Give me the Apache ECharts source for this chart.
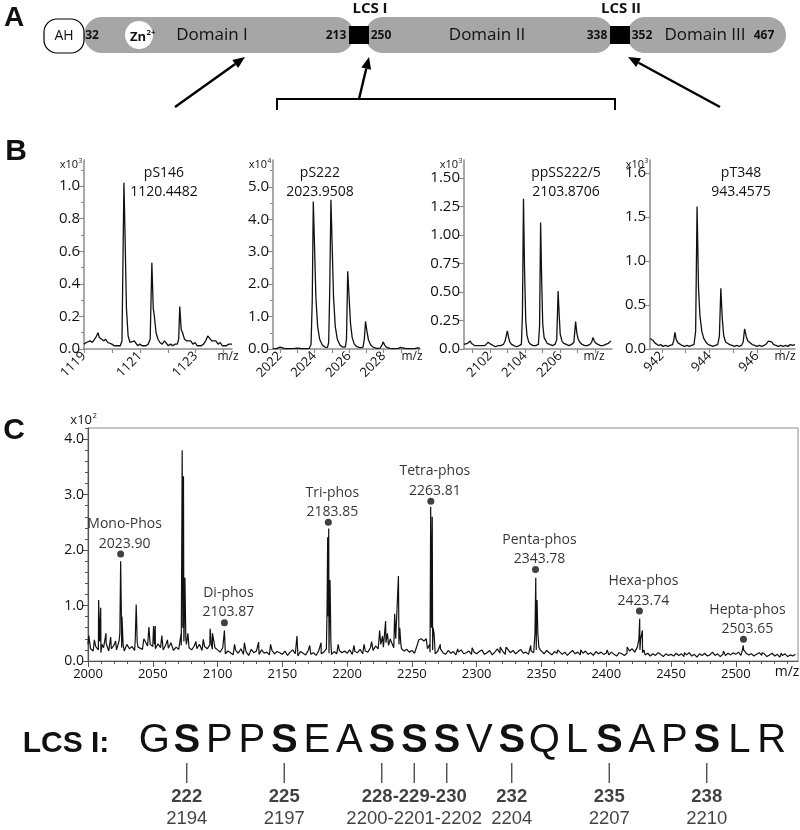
<!DOCTYPE html>
<html>
<head>
<meta charset="utf-8">
<script src="https://cdn.jsdelivr.net/npm/echarts@6/dist/echarts.min.js"></script>
<style>
  html, body { margin: 0; padding: 0; background: #fff; }
  #chart { width: 800px; height: 830px; }
</style>
</head>
<body>
<div id="chart"></div>
<script>
// ---------- panel B: isotope spectra, [m/z, intensity] ----------
const specS146 = [
  [1119.00,0.03],[1119.08,0.04],[1119.15,0.03],[1119.22,0.05],[1119.30,0.04],[1119.38,0.06],[1119.45,0.08],[1119.50,0.10],
  [1119.55,0.07],[1119.62,0.06],[1119.70,0.05],[1119.78,0.06],[1119.85,0.04],[1119.92,0.04],[1120.00,0.03],[1120.08,0.02],
  [1120.15,0.03],[1120.22,0.02],[1120.30,0.02],[1120.36,0.05],[1120.43,1.02],[1120.47,0.70],[1120.52,0.25],[1120.58,0.08],
  [1120.65,0.04],[1120.72,0.03],[1120.80,0.05],[1120.85,0.04],[1120.92,0.02],[1121.00,0.03],[1121.08,0.02],[1121.15,0.03],
  [1121.22,0.02],[1121.30,0.03],[1121.37,0.06],[1121.43,0.53],[1121.48,0.25],[1121.52,0.20],[1121.58,0.10],[1121.65,0.06],
  [1121.72,0.04],[1121.80,0.03],[1121.88,0.05],[1121.95,0.04],[1122.02,0.02],[1122.10,0.03],[1122.18,0.02],[1122.26,0.03],
  [1122.34,0.03],[1122.39,0.06],[1122.43,0.26],[1122.48,0.12],[1122.53,0.10],[1122.60,0.06],[1122.68,0.05],[1122.75,0.04],
  [1122.82,0.05],[1122.90,0.03],[1122.98,0.04],[1123.05,0.02],[1123.12,0.03],[1123.20,0.02],[1123.28,0.03],[1123.36,0.05],
  [1123.43,0.08],[1123.50,0.07],[1123.58,0.05],[1123.65,0.04],[1123.72,0.05],[1123.80,0.03],[1123.88,0.04],[1123.95,0.02],
  [1124.02,0.03],[1124.10,0.02],[1124.18,0.03],[1124.25,0.02],[1124.30,0.03]
];
const specS222 = [
  [2021.6,0.01],[2021.8,0.01],[2021.9,0.04],[2022.0,0.06],[2022.1,0.03],[2022.3,0.01],[2022.6,0.01],[2022.85,0.02],
  [2022.95,0.05],[2023.05,0.03],[2023.25,0.01],[2023.5,0.01],[2023.7,0.02],[2023.8,0.15],[2023.87,1.5],[2023.93,4.55],
  [2024.0,3.2],[2024.08,1.6],[2024.18,0.7],[2024.3,0.3],[2024.45,0.12],[2024.6,0.06],[2024.75,0.05],[2024.82,0.2],
  [2024.88,1.8],[2024.95,4.6],[2025.02,3.2],[2025.1,1.6],[2025.2,0.7],[2025.32,0.3],[2025.47,0.12],[2025.62,0.06],
  [2025.78,0.06],[2025.85,0.3],[2025.92,2.4],[2026.0,1.6],[2026.08,0.8],[2026.18,0.35],[2026.3,0.15],[2026.45,0.07],
  [2026.62,0.04],[2026.8,0.05],[2026.88,0.3],[2026.95,0.85],[2027.03,0.55],[2027.12,0.28],[2027.25,0.12],[2027.4,0.05],
  [2027.6,0.02],[2027.8,0.03],[2027.9,0.12],[2027.97,0.22],[2028.05,0.13],[2028.15,0.06],[2028.35,0.02],[2028.6,0.01],
  [2028.85,0.02],[2028.97,0.05],[2029.08,0.02],[2029.3,0.01],[2029.6,0.01],[2029.8,0.01],[2030.0,0.04],[2030.1,0.01]
];
const specSS222 = [
  [2100.5,0.04],[2100.6,0.03],[2100.7,0.05],[2100.8,0.04],[2100.86,0.07],[2100.92,0.05],[2101.0,0.04],[2101.1,0.03],
  [2101.2,0.02],[2101.3,0.03],[2101.4,0.02],[2101.5,0.03],[2101.6,0.02],[2101.7,0.03],[2101.8,0.04],[2101.88,0.06],
  [2101.95,0.05],[2102.05,0.04],[2102.15,0.03],[2102.3,0.02],[2102.45,0.03],[2102.6,0.03],[2102.75,0.04],[2102.85,0.07],
  [2102.92,0.12],[2102.98,0.16],[2103.05,0.10],[2103.12,0.06],[2103.22,0.04],[2103.35,0.03],[2103.5,0.02],[2103.65,0.03],
  [2103.78,0.04],[2103.84,0.3],[2103.9,1.32],[2103.96,0.7],[2104.03,0.25],[2104.1,0.12],[2104.2,0.06],[2104.32,0.04],
  [2104.45,0.03],[2104.6,0.03],[2104.75,0.04],[2104.82,0.2],[2104.88,1.11],[2104.94,0.6],[2105.0,0.22],[2105.08,0.10],
  [2105.15,0.08],[2105.25,0.05],[2105.4,0.04],[2105.55,0.03],[2105.7,0.04],[2105.8,0.08],[2105.88,0.51],[2105.94,0.3],
  [2106.0,0.13],[2106.1,0.07],[2106.2,0.05],[2106.35,0.04],[2106.5,0.03],[2106.65,0.04],[2106.78,0.06],[2106.88,0.24],
  [2106.95,0.14],[2107.02,0.09],[2107.12,0.06],[2107.25,0.04],[2107.4,0.03],[2107.55,0.03],[2107.7,0.04],[2107.8,0.06],
  [2107.87,0.10],[2107.95,0.07],[2108.05,0.05],[2108.15,0.04],[2108.3,0.03],[2108.45,0.03],[2108.6,0.04],[2108.75,0.05],
  [2108.9,0.07]
];
const specT348 = [
  [941.5,0.12],[941.55,0.13],[941.62,0.10],[941.7,0.07],[941.78,0.06],[941.86,0.04],[941.95,0.05],[942.05,0.03],
  [942.15,0.04],[942.25,0.03],[942.35,0.04],[942.45,0.05],[942.5,0.10],[942.55,0.19],[942.6,0.11],[942.68,0.07],
  [942.76,0.05],[942.85,0.04],[942.95,0.03],[943.05,0.04],[943.15,0.03],[943.25,0.04],[943.35,0.05],[943.42,0.2],
  [943.48,1.62],[943.54,0.7],[943.6,0.38],[943.68,0.2],[943.76,0.12],[943.85,0.08],[943.95,0.05],[944.05,0.04],
  [944.15,0.03],[944.25,0.04],[944.35,0.05],[944.42,0.15],[944.48,0.69],[944.54,0.35],[944.6,0.15],[944.68,0.08],
  [944.76,0.06],[944.85,0.05],[944.95,0.04],[945.05,0.03],[945.15,0.04],[945.25,0.03],[945.35,0.04],[945.42,0.08],
  [945.48,0.23],[945.55,0.14],[945.62,0.09],[945.7,0.07],[945.8,0.05],[945.9,0.04],[946.0,0.03],[946.1,0.04],
  [946.2,0.03],[946.3,0.04],[946.4,0.06],[946.48,0.09],[946.56,0.07],[946.62,0.08],[946.7,0.05],[946.8,0.04],
  [946.9,0.03],[947.0,0.04],[947.1,0.03],[947.2,0.04],[947.3,0.03],[947.4,0.05],[947.5,0.04],[947.6,0.05]
];

const bXTicks = [
  [1119, 1120, 1121, 1122, 1123, 1124],
  [2022, 2023, 2024, 2025, 2026, 2027, 2028, 2029, 2030],
  [2101, 2102, 2103, 2104, 2105, 2106, 2107, 2108],
  [942, 943, 944, 945, 946, 947]
];
const bXLabelVals = [[1119, 1121, 1123], [2022, 2024, 2026, 2028], [2102, 2104, 2106], [942, 944, 946]];
const bXLabelText = [['1119', '1121', '1123'], ['2022', '2024', '2026', '2028'], ['2102', '2104', '2206'], ['942', '944', '946']];
const bYLabelVals = [[0, 0.2, 0.4, 0.6, 0.8, 1.0], [0, 1, 2, 3, 4, 5], [0, 0.25, 0.5, 0.75, 1, 1.25, 1.5], [0, 0.5, 1, 1.5, 2]];
const bYLabelText = [
  ['0.0', '0.2', '0.4', '0.6', '0.8', '1.0'],
  ['0.0', '1.0', '2.0', '3.0', '4.0', '5.0'],
  ['0.0', '0.25', '0.50', '0.75', '1.00', '1.25', '1.50'],
  ['0.0', '0.5', '1.0', '1.5', '1.6']
];
const bExponent = ['3', '4', '3', '3'];
const bPeakName = ['pS146', 'pS222', 'ppSS222/5', 'pT348'];
const bPeakMass = ['1120.4482', '2023.9508', '2103.8706', '943.4575'];

// ---------- panel C: full spectrum ----------
const cStart = 2000, cStep = 2;
const cBaseline = [
  0.30,0.22,0.18,0.26,0.20,0.15,0.24,0.32,0.18,0.22,0.28,0.20,0.36,0.24,0.18,0.30,0.22,0.26,0.19,0.34,0.25,0.21,0.38,0.27,0.30,
  0.26,0.22,0.31,0.24,0.20,0.29,0.23,0.33,0.19,0.25,0.21,0.28,0.35,0.30,0.24,0.20,0.27,0.22,0.30,0.19,0.26,0.22,0.29,0.21,0.24,
  0.20,0.16,0.24,0.13,0.18,0.15,0.11,0.19,0.14,0.22,0.12,0.17,0.10,0.21,0.15,0.18,0.12,0.20,0.14,0.16,0.11,0.19,0.13,0.17,0.15,
  0.12,0.18,0.10,0.16,0.20,0.13,0.09,0.17,0.14,0.11,0.19,0.12,0.15,0.10,0.18,0.13,0.16,0.22,0.14,0.12,0.17,0.13,0.19,0.15,0.18,
  0.14,0.20,0.12,0.17,0.15,0.21,0.13,0.18,0.16,0.24,0.19,0.27,0.22,0.30,0.25,0.33,0.28,0.35,0.24,0.40,0.30,0.22,0.18,0.21,0.16,
  0.19,0.14,0.28,0.35,0.40,0.33,0.22,0.16,0.20,0.13,0.18,0.22,0.15,0.12,0.19,0.14,0.17,0.11,0.16,0.20,0.13,0.15,0.18,0.12,0.16,
  0.13,0.17,0.20,0.12,0.15,0.19,0.11,0.16,0.22,0.14,0.18,0.12,0.25,0.15,0.19,0.13,0.17,0.21,0.14,0.16,0.12,0.18,0.15,0.20,0.25,
  0.17,0.13,0.19,0.15,0.11,0.17,0.14,0.18,0.12,0.16,0.10,0.15,0.19,0.13,0.16,0.11,0.14,0.18,0.12,0.15,0.10,0.17,0.13,0.16,0.12,
  0.14,0.11,0.16,0.12,0.09,0.15,0.13,0.10,0.14,0.18,0.22,0.16,0.25,0.20,0.15,0.11,0.14,0.09,0.13,0.10,0.15,0.12,0.08,0.13,0.10,
  0.12,0.09,0.14,0.10,0.13,0.08,0.11,0.15,0.09,0.12,0.07,0.13,0.10,0.14,0.09,0.11,0.16,0.10,0.13,0.08,0.12,0.10,0.14,0.11,0.15,
  0.12,0.16,0.10,0.20,0.14,0.11,0.13,0.09,0.12,0.15,0.10,0.13,0.08,0.11,0.14,0.09,0.12,0.07,0.10,0.13,0.08,0.11,0.09,0.12
];
const cPeaks = [
  [2000.6,0.46],[2004.9,0.38],[2008.2,1.10],[2009.0,0.35],[2009.8,0.96],[2010.7,0.30],[2013.9,0.50],[2017.5,0.43],
  [2021.3,0.36],[2024.6,0.50],[2025.2,1.80],[2025.7,0.95],[2026.2,0.80],[2027.1,0.30],[2031.0,0.31],[2036.5,0.40],
  [2037.2,1.02],[2037.8,0.50],[2038.6,0.25],[2043.1,0.40],[2047.0,0.61],[2050.6,0.63],[2051.3,0.30],[2051.9,0.63],
  [2057.0,0.46],[2061.3,0.38],[2065.1,0.33],[2071.9,0.50],[2072.7,3.80],[2073.2,0.60],[2073.7,3.33],[2074.2,0.50],
  [2074.8,1.50],[2075.5,0.40],[2077.1,0.50],[2083.3,0.35],[2089.0,0.39],[2094.3,0.58],[2095.2,0.30],[2096.1,0.50],
  [2104.7,0.25],[2105.3,0.55],[2105.9,0.20],[2113.1,0.30],[2120.7,0.33],[2131.7,0.34],[2140.9,0.30],[2161.3,0.45],
  [2171.1,0.28],[2179.9,0.33],[2184.5,0.90],[2185.0,2.23],[2185.4,0.80],[2185.8,2.39],[2186.3,0.70],[2186.8,1.46],
  [2187.5,0.30],[2193.1,0.30],[2205.3,0.28],[2213.1,0.30],[2218.9,0.35],[2225.1,0.55],[2227.3,0.45],[2229.7,0.72],
  [2231.1,0.50],[2233.3,0.40],[2236.7,0.85],[2237.5,0.40],[2239.6,1.53],[2240.6,0.60],[2241.5,0.30],[2255.3,0.38],
  [2257.1,0.40],[2259.3,0.36],[2261.1,0.40],[2263.8,0.30],[2264.5,2.78],[2265.1,0.60],[2265.7,2.60],[2266.3,0.60],
  [2267.1,0.50],[2271.9,0.30],[2285.3,0.22],[2296.5,0.24],[2310.3,0.22],[2318.1,0.25],[2322.7,0.25],[2332.9,0.20],
  [2341.7,0.28],[2345.0,0.50],[2345.6,1.50],[2346.1,0.70],[2346.6,1.10],[2347.2,0.50],[2347.9,0.50],[2349.1,0.20],
  [2362.5,0.20],[2380.3,0.20],[2400.7,0.20],[2416.1,0.25],[2420.3,0.25],[2425.2,0.40],[2425.8,0.76],[2426.6,0.40],
  [2427.9,0.55],[2429.1,0.20],[2440.7,0.15],[2460.3,0.15],[2490.5,0.18],[2505.1,0.20],[2505.8,0.28],[2507.1,0.18],
  [2520.3,0.15],[2535.1,0.14]
];
const cDotMz = [2025.2, 2105.3, 2185.5, 2264.6, 2345.4, 2425.6, 2505.9];
const cDotY = [1.93, 0.69, 2.50, 2.88, 1.65, 0.90, 0.39];
const cDotName = ['Mono-Phos', 'Di-phos', 'Tri-phos', 'Tetra-phos', 'Penta-phos', 'Hexa-phos', 'Hepta-phos'];
const cDotMass = ['2023.90', '2103.87', '2183.85', '2263.81', '2343.78', '2423.74', '2503.65'];
const cXLabels = [2000, 2050, 2100, 2150, 2200, 2250, 2300, 2350, 2400, 2450, 2500];
const cYLabels = [0, 1, 2, 3, 4];
const cYMinor = [0.2, 0.4, 0.6, 0.8, 1.2, 1.4, 1.6, 1.8, 2.2, 2.4, 2.6, 2.8, 3.2, 3.4, 3.6, 3.8, 4.2];

// ---------- LCS I sequence ----------
const seqLetters = ['G','S','P','P','S','E','A','S','S','S','V','S','Q','L','S','A','P','S','L','R'];
const siteIndex = [1, 4, 7, 8, 9, 11, 14, 17];
const siteResidue = ['222', '225', '', '228-229-230', '', '232', '235', '238'];
const siteMass = ['2194', '2197', '', '2200-2201-2202', '', '2204', '2207', '2210'];

const FONT = '"Open Sans", sans-serif';
const SEQFONT = '"Liberation Sans", Arial, sans-serif';
const bAxisColor = '#8c8c8c';
const ink = '#111';

function lookup(vals, texts, v) {
  for (let i = 0; i < vals.length; i++) if (Math.abs(vals[i] - v) < 1e-6) return texts[i];
  return '';
}

const chart = echarts.init(document.getElementById('chart'), null, { renderer: 'canvas' });

const grids = [], xAxes = [], yAxes = [], series = [];

// panel B layout
const bSpectra = [specS146, specS222, specSS222, specT348];
const bLayout = [
  { left: 84, width: 148, xMin: 1119, xMax: 1124.3, yMax: 1.16, yInt: 0.2, minor: true, labelX: 164, mzX: 228 },
  { left: 273, width: 147, xMin: 2021.6, xMax: 2030.1, yMax: 5.83, yInt: 1, minor: true, labelX: 320, mzX: 412 },
  { left: 464, width: 148, xMin: 2100.5, xMax: 2108.96, yMax: 1.66, yInt: 0.25, minor: false, labelX: 566, mzX: 594 },
  { left: 650, width: 145, xMin: 941.5, xMax: 947.6, yMax: 2.15, yInt: 0.5, minor: false, labelX: 741, mzX: 785 }
];
bLayout.forEach((L, i) => {
  grids.push({ left: L.left, top: 160, width: L.width, height: 189, outerBoundsMode: 'none' });
  xAxes.push({
    type: 'value', gridIndex: i, min: L.xMin, max: L.xMax,
    axisLine: { show: true, onZero: false, lineStyle: { color: bAxisColor, width: 1.5 } },
    axisTick: { show: true, customValues: bXTicks[i], length: 4, lineStyle: { color: bAxisColor, width: 1.2 } },
    axisLabel: {
      customValues: bXLabelVals[i], rotate: 45, margin: 5, fontSize: 13, color: ink, fontFamily: FONT,
      formatter: v => lookup(bXLabelVals[i], bXLabelText[i], v)
    },
    splitLine: { show: false }
  });
  yAxes.push({
    type: 'value', gridIndex: i, min: 0, max: L.yMax, interval: L.yInt,
    axisLine: { show: true, lineStyle: { color: bAxisColor, width: 1.5 } },
    axisTick: { show: true, customValues: bYLabelVals[i], length: 5, lineStyle: { color: bAxisColor, width: 1.2 } },
    minorTick: { show: L.minor, splitNumber: 2, length: 3, lineStyle: { color: bAxisColor, width: 1 } },
    axisLabel: {
      customValues: bYLabelVals[i], margin: 4, fontSize: 15, color: ink, fontFamily: FONT,
      formatter: v => lookup(bYLabelVals[i], bYLabelText[i], v)
    },
    splitLine: { show: false }
  });
  series.push({
    type: 'line', xAxisIndex: i, yAxisIndex: i, data: bSpectra[i], showSymbol: false, silent: true,
    lineStyle: { color: ink, width: 1.3 }
  });
});

// panel C
const cData = cBaseline.map((v, i) => [cStart + i * cStep, v]).concat(cPeaks).sort((a, b) => a[0] - b[0]);
grids.push({ left: 88, top: 428, right: 2, bottom: 169, show: true, borderColor: '#8a8a8a', borderWidth: 1, outerBoundsMode: 'none' });
xAxes.push({
  type: 'value', gridIndex: 4, min: 2000, max: 2548, interval: 50,
  axisLine: { show: true, onZero: false, lineStyle: { color: '#555', width: 1.2 } },
  axisTick: { show: true, customValues: cXLabels, length: 6, lineStyle: { color: '#555' } },
  minorTick: { show: true, splitNumber: 5, length: 3, lineStyle: { color: '#555' } },
  axisLabel: { customValues: cXLabels, fontSize: 13, margin: 7, color: ink, fontFamily: FONT, formatter: v => String(v) },
  splitLine: { show: false }
});
yAxes.push({
  type: 'value', gridIndex: 4, min: 0, max: 4.2, interval: 1, position: 'left',
  axisLine: { show: true, lineStyle: { color: '#555', width: 1.2 } },
  axisTick: { show: true, customValues: cYLabels, length: 6, lineStyle: { color: '#555' } },
  axisLabel: { customValues: cYLabels, fontSize: 14, margin: 4, color: ink, fontFamily: FONT, formatter: v => v.toFixed(1) },
  splitLine: { show: false }
});
series.push({
  type: 'line', xAxisIndex: 4, yAxisIndex: 4, data: cData, showSymbol: false, silent: true,
  lineStyle: { color: ink, width: 1.2 }
});
series.push({
  type: 'scatter', xAxisIndex: 4, yAxisIndex: 4, symbolSize: 7, silent: true,
  itemStyle: { color: ink },
  data: cDotMz.map((mz, i) => ({ value: [mz, cDotY[i]], name: cDotName[i], mass: cDotMass[i] })),
  label: {
    show: true, position: 'top', distance: 0, offset: [4, 3],
    fontSize: 14, lineHeight: 19.5, color: '#000', fontFamily: FONT,
    formatter: p => p.name + '\n' + p.data.mass
  }
});

// sequence
grids.push({ left: 138, width: 650, top: 763, height: 20, outerBoundsMode: 'none' });
xAxes.push({
  type: 'category', gridIndex: 5, data: seqLetters, position: 'top',
  axisLine: { show: false }, axisTick: { show: false },
  axisLabel: {
    interval: 0, margin: 2,
    formatter: (v, i) => (siteIndex.indexOf(i) >= 0 ? '{b|' + v + '}' : '{n|' + v + '}'),
    rich: {
      b: { fontFamily: SEQFONT, fontWeight: 'bold', fontSize: 40, lineHeight: 40, color: ink },
      n: { fontFamily: SEQFONT, fontWeight: 'normal', fontSize: 40, lineHeight: 40, color: ink }
    }
  }
});
yAxes.push({ type: 'value', gridIndex: 5, min: 0, max: 1, show: false });
series.push({
  type: 'scatter', xAxisIndex: 5, yAxisIndex: 5, symbol: 'rect', symbolSize: [1.3, 20], silent: true,
  itemStyle: { color: ink },
  data: siteIndex.map(i => [i, 0.5]),
  label: {
    show: true, position: 'bottom', distance: 3,
    formatter: p => siteResidue[p.dataIndex] ? '{b|' + siteResidue[p.dataIndex] + '}\n{n|' + siteMass[p.dataIndex] + '}' : '',
    rich: {
      b: { fontFamily: SEQFONT, fontWeight: 'bold', fontSize: 18.5, lineHeight: 22, color: ink },
      n: { fontFamily: SEQFONT, fontSize: 18.5, lineHeight: 22, color: ink }
    }
  }
});

// minor ticks on C's y axis (separate axis so they can be shorter)
yAxes.push({
  type: 'value', gridIndex: 4, min: 0, max: 4.2, position: 'left',
  axisLine: { show: false },
  axisTick: { show: true, customValues: cYMinor, length: 3, lineStyle: { color: '#555' } },
  axisLabel: { show: false }, splitLine: { show: false }
});

// ---------- graphic: panel A schematic and free texts ----------
function txt(x, y, text, size, opt) {
  opt = opt || {};
  return {
    type: 'text', x: x, y: y, silent: true,
    style: {
      text: text, fontSize: size, fontFamily: opt.family || FONT, fontWeight: opt.weight || 'normal',
      fill: opt.color || ink, align: opt.align || 'center', verticalAlign: 'middle',
      textAlign: opt.align || 'center', textVerticalAlign: 'middle'
    }
  };
}
function sup(x, y, base, exp, size, opt) {
  // base right-aligned at x, exponent raised after it
  return [txt(x, y, base, size, Object.assign({ align: 'right' }, opt)),
          txt(x + 0.5, y - size * 0.35, exp, size * 0.6, Object.assign({ align: 'left' }, opt))];
}
function arrow(x1, y1, x2, y2) {
  const a = Math.atan2(y2 - y1, x2 - x1), L = 12, W = 5;
  const bx = x2 - L * Math.cos(a), by = y2 - L * Math.sin(a);
  const px = -Math.sin(a) * W, py = Math.cos(a) * W;
  return [
    { type: 'line', silent: true, shape: { x1: x1, y1: y1, x2: bx, y2: by }, style: { stroke: '#000', lineWidth: 2.4 } },
    { type: 'polygon', silent: true, shape: { points: [[x2, y2], [bx + px, by + py], [bx - px, by - py]] }, style: { fill: '#000' } }
  ];
}

const pillGray = '#a6a6a6';
let gfx = [
  txt(14, 18, 'A', 28, { weight: 'bold', family: SEQFONT }),
  txt(16, 152, 'B', 30, { weight: 'bold', family: SEQFONT }),
  txt(14, 431, 'C', 30, { weight: 'bold', family: SEQFONT }),
  { type: 'rect', silent: true, shape: { x: 84, y: 17, width: 270, height: 36, r: 18 }, style: { fill: pillGray } },
  { type: 'rect', silent: true, shape: { x: 365, y: 17, width: 248, height: 36, r: 18 }, style: { fill: pillGray } },
  { type: 'rect', silent: true, shape: { x: 627, y: 17, width: 159, height: 36, r: 18 }, style: { fill: pillGray } },
  { type: 'rect', silent: true, shape: { x: 349, y: 26, width: 20, height: 18 }, style: { fill: '#000' } },
  { type: 'rect', silent: true, shape: { x: 610, y: 26, width: 20, height: 18 }, style: { fill: '#000' } },
  { type: 'rect', silent: true, shape: { x: 44, y: 19, width: 40, height: 34, r: 13 }, style: { fill: '#fff', stroke: '#000', lineWidth: 1.2 } },
  { type: 'circle', silent: true, shape: { cx: 139, cy: 35, r: 14 }, style: { fill: '#fff' } },
  txt(64, 36, 'AH', 14),
  txt(92, 36, '32', 12, { weight: 'bold' }),
  txt(212, 35, 'Domain I', 17),
  txt(336, 36, '213', 12, { weight: 'bold' }),
  txt(381, 36, '250', 12, { weight: 'bold' }),
  txt(487, 35, 'Domain II', 17),
  txt(597, 36, '338', 12, { weight: 'bold' }),
  txt(642, 36, '352', 12, { weight: 'bold' }),
  txt(705, 35, 'Domain III', 17),
  txt(764, 36, '467', 12, { weight: 'bold' }),
  txt(370, 9, 'LCS I', 15, { weight: 'bold' }),
  txt(621, 9, 'LCS II', 15, { weight: 'bold' }),
  { type: 'polyline', silent: true, shape: { points: [[277, 110], [277, 99], [615, 99], [615, 110]] }, style: { stroke: '#000', lineWidth: 2, fill: null } },
  txt(66, 744, 'LCS I:', 30, { weight: 'bold', family: SEQFONT }),
  txt(787, 672, 'm/z', 14)
];
gfx = gfx.concat(sup(146, 37, 'Zn', '2+', 13, { weight: 'bold' }));
gfx = gfx.concat(arrow(175, 107, 245, 57), arrow(359, 99, 369, 57), arrow(720, 107, 628, 57));
gfx = gfx.concat(sup(92, 420, 'x10', '2', 13));
bLayout.forEach((L, i) => {
  gfx = gfx.concat(sup(L.left - 6, 165, 'x10', bExponent[i], 11));
  gfx.push(txt(L.labelX, 173, bPeakName[i], 14));
  gfx.push(txt(L.labelX, 192, bPeakMass[i], 14));
  gfx.push(txt(L.mzX, 357, 'm/z', 12));
});

chart.setOption({
  animation: false,
  backgroundColor: '#fff',
  textStyle: { fontFamily: FONT },
  grid: grids,
  xAxis: xAxes,
  yAxis: yAxes,
  series: series,
  graphic: { elements: gfx }
});
</script>
</body>
</html>
